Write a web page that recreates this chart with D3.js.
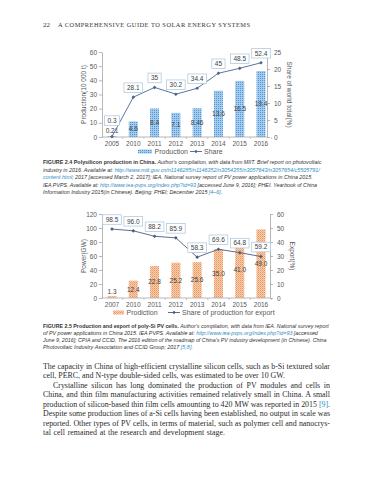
<!DOCTYPE html>
<html><head><meta charset="utf-8">
<script src="https://cdn.jsdelivr.net/npm/d3@7"></script>
<style>body{margin:0;background:#fff}svg{display:block}</style>
</head><body>
<script>
// ---------- DATA ----------
const years1 = ["2005","2010","2011","2012","2013","2014","2015","2016"];
const production1 = [0.21,4.6,8.4,7.1,8.46,13.6,16.5,19.4];
const production1Labels = ["0.21","4.6","8.4","7.1","8.46","13.6","16.5","19.4"];
const share1 = [0.3,28.1,35,30.2,34.4,45,48.5,52.4];
const share1Labels = ["0.3","28.1","35","30.2","34.4","45","48.5","52.4"];
const leftTicks1 = [0,10,20,30,40,50,60];
const rightTicks1 = [0,5,10,15,20,25];

const years2 = ["2007","2010","2011","2012","2013","2014","2015","2016"];
const production2 = [1.3,12.4,22.8,25.2,25.6,35.0,41.0,49.0];
const production2Labels = ["1.3","12.4","22.8","25.2","25.6","35.0","41.0","49.0"];
const export2 = [98.5,96.0,88.2,85.9,58.3,69.6,64.8,59.2];
const export2Labels = ["98.5","96.0","88.2","85.9","58.3","69.6","64.8","59.2"];
const leftTicks2 = [0,20,40,60,80,100,120];
const rightTicks2 = [0,10,20,30,40,50,60];

// ---------- SVG ----------
const W = 388, H = 480;
const svg = d3.select("body").append("svg").attr("width", W).attr("height", H);
const defs = svg.append("defs");
const pb = defs.append("pattern").attr("id","patBlue").attr("patternUnits","userSpaceOnUse").attr("width",2).attr("height",2);
pb.append("rect").attr("width",2).attr("height",2).attr("fill","#a3cbee");
pb.append("rect").attr("width",1).attr("height",1).attr("fill","#5496d3");
const po = defs.append("pattern").attr("id","patOrange").attr("patternUnits","userSpaceOnUse").attr("width",2).attr("height",2);
po.append("rect").attr("width",2).attr("height",2).attr("fill","#f8cfb0");
po.append("rect").attr("width",1).attr("height",1).attr("fill","#e8955e");
po.append("rect").attr("x",1).attr("y",1).attr("width",1).attr("height",1).attr("fill","#f1ac80");

const SANS = "'Liberation Sans', Arial, sans-serif";
const SERIF = "'Liberation Serif', 'Times New Roman', serif";

function fit(t, target, size){
  const nat = t.node().getComputedTextLength();
  if (nat > target) { t.attr("font-size", size*target/nat); return; }
  const spaces = (t.text().match(/ /g)||[]).length;
  if (spaces) t.attr("word-spacing", (target-nat)/spaces);
}
function letterFit(t, target, size){
  const nat = t.node().getComputedTextLength();
  const n = t.text().length;
  if (nat > target) { t.attr("font-size", size*target/nat); return; }
  t.attr("letter-spacing", (target-nat)/(n-1));
}

// header
svg.append("text").attr("x",43).attr("y",26.5).attr("font-family",SERIF).attr("font-size",7).attr("fill","#333").text("22");
const hdr = svg.append("text").attr("x",58).attr("y",26.5).attr("font-family",SERIF).attr("font-size",6.4).attr("fill","#333")
  .text("A COMPREHENSIVE GUIDE TO SOLAR ENERGY SYSTEMS");
letterFit(hdr,192,6.4);

function chart(c){
  const g = svg.append("g");
  const x = d3.scalePoint().domain(c.years).range([112, 261]);
  const yL = d3.scaleLinear().domain([0, c.leftMax]).range([c.bottom, c.top]);
  const yR = d3.scaleLinear().domain([0, c.rightMax]).range([c.bottom, c.top]);
  const axisCol = "#a6a6a6", txtCol = "#595959";

  g.selectAll(".bar").data(c.bars).join("rect")
    .attr("x",(d,i)=>x(c.years[i])-4.5).attr("width",9)
    .attr("y",d=>yR(d)).attr("height",d=>c.bottom-yR(d))
    .attr("fill",`url(#${c.pattern})`);

  const la = g.append("g").attr("transform",`translate(${c.left},0)`)
    .call(d3.axisLeft(yL).tickValues(c.leftTicks).tickSize(3).tickPadding(2).tickSizeOuter(0));
  const ra = g.append("g").attr("transform",`translate(${c.right},0)`)
    .call(d3.axisRight(yR).tickValues(c.rightTicks).tickSize(3).tickPadding(4).tickSizeOuter(0));
  [la,ra].forEach(a=>{
    a.select(".domain").attr("stroke",axisCol).attr("stroke-width",0.8);
    a.selectAll(".tick line").attr("stroke",axisCol).attr("stroke-width",0.8);
    a.selectAll("text").attr("font-family",SANS).attr("font-size",6.5).attr("fill",txtCol);
  });
  g.append("line").attr("x1",c.left).attr("x2",c.right).attr("y1",c.bottom).attr("y2",c.bottom)
    .attr("stroke",axisCol).attr("stroke-width",0.8);
  const step = x.step();
  g.selectAll(".xt").data(c.years).join("line")
    .attr("x1",d=>x(d)+step/2).attr("x2",d=>x(d)+step/2).attr("y1",c.bottom).attr("y2",c.bottom+2)
    .attr("stroke",axisCol).attr("stroke-width",0.6);
  g.selectAll(".xl").data(c.years).join("text")
    .attr("x",d=>x(d)).attr("y",c.bottom+8.5).attr("text-anchor","middle")
    .attr("font-family",SANS).attr("font-size",6.5).attr("fill",txtCol).text(d=>d);

  g.selectAll(".bl").data(c.bars).join("text")
    .attr("x",(d,i)=>x(c.years[i])).attr("y",d=>Math.min((yR(d)+c.bottom)/2, c.bottom-6)+2.3)
    .attr("text-anchor","middle").attr("font-family",SANS).attr("font-size",6.5).attr("fill","#404040")
    .text((d,i)=>c.barLabels[i]);

  const pts = c.line.map((v,i)=>[x(c.years[i]), yL(v)]);
  g.append("path").attr("d",d3.line()(pts)).attr("fill","none").attr("stroke",c.lineColor).attr("stroke-width",0.9);
  g.selectAll(".mk").data(pts).join("rect")
    .attr("x",d=>d[0]-1.3).attr("y",d=>d[1]-1.3).attr("width",2.6).attr("height",2.6)
    .attr("fill",c.lineColor).attr("transform",d=>`rotate(45 ${d[0]} ${d[1]})`);

  c.line.forEach((v,i)=>{
    const cx = x(c.years[i]);
    let cy = yL(v) - 9.5;
    if (v < 2) cy = yL(v) - 16;
    const bg = g.append("g");
    const rect = bg.append("rect");
    const t = bg.append("text").attr("x",cx).attr("y",cy+2.3).attr("text-anchor","middle")
      .attr("font-family",SANS).attr("font-size",6.5).attr("fill","#404040").text(c.lineLabels[i]);
    const w = t.node().getComputedTextLength()+6;
    rect.attr("x",cx-w/2).attr("y",cy-4.8).attr("width",w).attr("height",9.6)
      .attr("fill","#fff").attr("stroke","#b3cbe0").attr("stroke-width",0.8);
  });

  const midY = (c.top+c.bottom)/2;
  g.append("text").attr("transform",`translate(${c.left-16},${midY}) rotate(-90)`).attr("text-anchor","middle")
    .attr("font-family",SANS).attr("font-size",6.5).attr("fill",txtCol).text(c.leftTitle);
  g.append("text").attr("transform",`translate(${c.right+20},${midY}) rotate(90)`).attr("text-anchor","middle")
    .attr("font-family",SANS).attr("font-size",6.5).attr("fill",txtCol).text(c.rightTitle);

  const ly = c.bottom + 14.5;
  g.append("rect").attr("x",c.legBar).attr("y",ly-2).attr("width",c.legBarW).attr("height",4).attr("fill",`url(#${c.pattern})`);
  g.append("text").attr("x",c.legBar+c.legBarW+2.5).attr("y",ly+2.4).attr("font-family",SANS).attr("font-size",7)
    .attr("fill",txtCol).text(c.barName);
  g.append("line").attr("x1",c.legLine).attr("x2",c.legLine+12).attr("y1",ly).attr("y2",ly)
    .attr("stroke",c.lineColor).attr("stroke-width",0.9);
  g.append("rect").attr("x",c.legLine+6-1.2).attr("y",ly-1.2).attr("width",2.4).attr("height",2.4)
    .attr("fill",c.lineColor).attr("transform",`rotate(45 ${c.legLine+6} ${ly})`);
  g.append("text").attr("x",c.legLine+14).attr("y",ly+2.4).attr("font-family",SANS).attr("font-size",7)
    .attr("fill",txtCol).text(c.lineName);
}

chart({years:years1,bars:production1,barLabels:production1Labels,line:share1,lineLabels:share1Labels,
  leftMax:60,rightMax:25,leftTicks:leftTicks1,rightTicks:rightTicks1,top:52,bottom:137,left:102,right:267,
  pattern:"patBlue",lineColor:"#4a6592",leftTitle:"Production(10 000 t)",rightTitle:"Share of world total(%)",
  legBar:138,legBarW:14,barName:"Production",legLine:190,lineName:"Share"});

chart({years:years2,bars:production2,barLabels:production2Labels,line:export2,lineLabels:export2Labels,
  leftMax:120,rightMax:60,leftTicks:leftTicks2,rightTicks:rightTicks2,top:214,bottom:298,left:102,right:270,
  pattern:"patOrange",lineColor:"#4b5d7e",leftTitle:"Power(GW)",rightTitle:"Export(%)",
  legBar:113,legBarW:11,barName:"Prodiction",legLine:168,lineName:"Share of production for export"});

// ---------- captions ----------
const LINK = "#2f8dbf";
function richLines(lines, x0, y0, dy, widths, size){
  lines.forEach((segs,i)=>{
    const t = svg.append("text").attr("x",x0).attr("y",y0+i*dy).attr("font-family",SANS).attr("font-size",size)
      .attr("fill","#333");
    segs.forEach(([k,s])=>{
      const ts = t.append("tspan").text(s);
      if (k==="b") ts.attr("font-weight","bold");
      else ts.attr("font-style","italic");
      if (k==="l") ts.attr("fill",LINK);
    });
    fit(t, widths[i], size);
  });
}
richLines([
 [["b","FIGURE 2.4 Polysilicon production in China. "],["i","Author's compilation, with data from MIIT. Brief report on photovoltaic"]],
 [["i","industry in 2016. Available at: "],["l","http://www.miit.gov.cn/n1146285/n1146352/n3054355/n3057643/n3057654/c5505791/"]],
 [["l","content.html"],["i","; 2017 [accessed March 2, 2017]; IEA. National survey report of PV power applications in China 2015."]],
 [["i","IEA PVPS. Available at: "],["l","http://www.iea-pvps.org/index.php?id=93"],["i"," [accessed June 9, 2016]; PHEI. Yearbook of China"]],
 [["i","Information Industry 2015(in Chinese). Beijing: PHEI; December 2015 "],["l","[4–6]"],["i","."]]
], 43, 164.3, 7.5, [279,277,270,274,179], 6.2);

richLines([
 [["b","FIGURE 2.5 Production and export of poly-Si PV cells. "],["i","Author's compilation, with data from IEA. National survey report"]],
 [["i","of PV power applications in China 2015. IEA PVPS. Available at: "],["l","http://www.iea-pvps.org/index.php?id=93"],["i"," [accessed"]],
 [["i","June 9, 2016]; CPIA and CCID. The 2016 edition of the roadmap of China's PV industry development (in Chinese). China"]],
 [["i","Photovoltaic Industry Association and CCID Group; 2017 "],["l","[5,8]"],["i","."]]
], 43, 327.6, 7.2, [286,275,284,150], 6.2);

// ---------- body text ----------
const body = [
 {x:43,w:287,s:[["t","The capacity in China of high-efficient crystalline silicon cells, such as b-Si textured solar"]]},
 {x:43,w:242,s:[["t","cell, PERC, and N-type double-sided cells, was estimated to be over 10 GW."]]},
 {x:53,w:277,s:[["t","Crystalline silicon has long dominated the production of PV modules and cells in"]]},
 {x:43,w:287,s:[["t","China, and thin film manufacturing activities remained relatively small in China. A small"]]},
 {x:43,w:287,s:[["t","production of silicon-based thin film cells amounting to 420 MW was reported in 2015 "],["l","[9]"],["t","."]]},
 {x:43,w:287,s:[["t","Despite some production lines of a-Si cells having been established, no output in scale was"]]},
 {x:43,w:287,s:[["t","reported. Other types of PV cells, in terms of material, such as polymer cell and nanocrys-"]]},
 {x:43,w:182,s:[["t","tal cell remained at the research and development stage."]]}
];
body.forEach((ln,i)=>{
  const t = svg.append("text").attr("x",ln.x).attr("y",368.5+i*9.55).attr("font-family",SERIF).attr("font-size",7.9)
    .attr("fill","#2b2b2b");
  ln.s.forEach(([k,s])=>{ const ts=t.append("tspan").text(s); if(k==="l") ts.attr("fill",LINK); });
  fit(t, ln.w, 7.9);
});
</script>
</body></html>
